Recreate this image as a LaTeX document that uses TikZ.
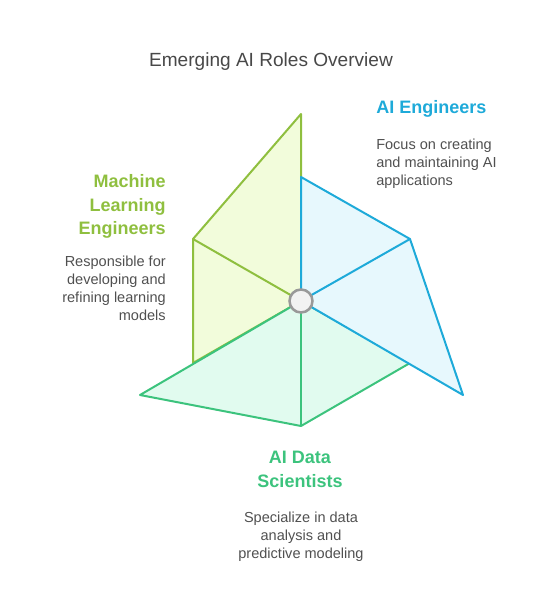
\documentclass[tikz,border=0pt]{standalone}
\usepackage{fontspec}
\setmainfont{Liberation Sans}
\usepackage{tikz}

\definecolor{mlgreen}{HTML}{8FBF3F}
\definecolor{mlfill}{HTML}{F2FCDB}
\definecolor{aiblue}{HTML}{1EAAD9}
\definecolor{aifill}{HTML}{E7F8FD}
\definecolor{dsgreen}{HTML}{3CC37D}
\definecolor{dsfill}{HTML}{E1FBEF}
\definecolor{bodygray}{HTML}{505050}
\definecolor{titlegray}{HTML}{484848}

\begin{document}
\begin{tikzpicture}[x=0.75pt,y=0.75pt,yscale=-1,xscale=1,
    blade/.style={line width=1.5pt,line join=round},
    heading/.style={font=\fontsize{13.5}{17.8}\selectfont\bfseries,inner sep=0.75pt},
    blurb/.style={font=\fontsize{10.9}{13.3}\selectfont,text=bodygray,inner sep=0.75pt}]
    \useasboundingbox (0,0) rectangle (542,614);

    %Shape: Blade ML [id:ml]
    \draw [blade,draw=mlgreen,fill=mlfill] (301,114) -- (193,239) -- (193,363) -- (301,301) -- cycle ;
    %Straight Lines [id:ml-inner]
    \draw [blade,draw=mlgreen] (193,239) -- (301,301) ;
    %Shape: Blade DS [id:ds]
    \draw [blade,draw=dsgreen,fill=dsfill] (301,301) -- (140,395) -- (301,426) -- (410,363) -- cycle ;
    %Straight Lines [id:ds-inner]
    \draw [blade,draw=dsgreen] (301,301) -- (301,426) ;
    %Shape: Blade AI [id:ai]
    \draw [blade,draw=aiblue,fill=aifill] (301,177) -- (410,239) -- (463,395) -- (301,301) -- cycle ;
    %Straight Lines [id:ai-inner]
    \draw [blade,draw=aiblue] (410,239) -- (301,301) ;
    %Shape: Circle [id:hub]
    \draw [line width=1.9pt,draw=black!40,fill=black!5] (301,301) circle [radius=11.5] ;

    % Text Node
    \node (title) [inner sep=0.75pt,text=titlegray,font=\fontsize{14.3}{18}\selectfont] at (271,62) {Emerging AI Roles Overview};
    % Text Node
    \node (aihead) [heading,text=aiblue,anchor=west] at (375,109) {AI Engineers};
    % Text Node
    \node (aitext) [blurb,anchor=north west,align=left] at (375,138) {Focus on creating\\and maintaining AI\\applications};
    % Text Node
    \node (mlhead) [heading,text=mlgreen,anchor=north east,align=right] at (167,173) {Machine\\Learning\\Engineers};
    % Text Node
    \node (mltext) [blurb,anchor=north east,align=right] at (167,255) {Responsible for\\developing and\\refining learning\\models};
    % Text Node
    \node (dshead) [heading,text=dsgreen,anchor=north,align=center] at (300,450) {AI Data\\Scientists};
    % Text Node
    \node (dstext) [blurb,anchor=north,align=center] at (301,511) {Specialize in data\\analysis and\\predictive modeling};

\end{tikzpicture}
\end{document}
